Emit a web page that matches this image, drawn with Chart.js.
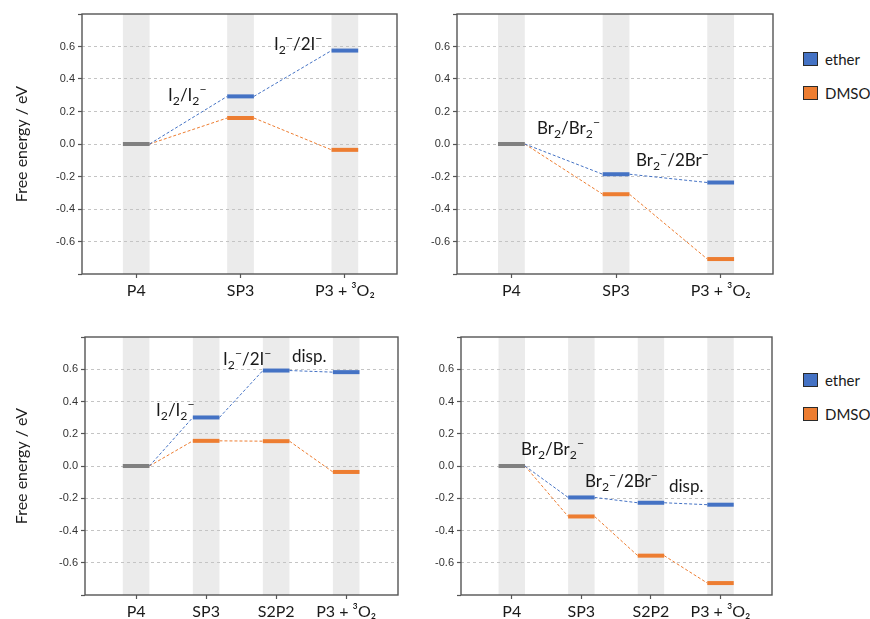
<!DOCTYPE html>
<html><head><meta charset="utf-8">
<script src="https://cdn.jsdelivr.net/npm/chart.js@4"></script>
<style>
body{margin:0;background:#fff;width:870px;height:619px;overflow:hidden;position:relative;font-family:Lato,sans-serif}
canvas{position:absolute}
.ann{position:absolute;font:17px Lato;line-height:20px;white-space:nowrap;color:#1a1a1a}
.sb{font-size:0.72em;position:relative;top:0.32em}
.sp{font-size:0.72em;position:relative;top:-0.62em}
.lg{position:absolute;font:15px Lato;line-height:18px;color:#1a1a1a;white-space:nowrap}
.lg i{position:absolute;left:0;top:2px;width:13px;height:13px;border:1px solid #2a2a2a;box-sizing:border-box;width:15px;height:14px}
.lg span{position:absolute;left:22px;top:0}
</style></head><body>
<canvas id="c1" width="420" height="310" style="left:0;top:0"></canvas>
<canvas id="c2" width="360" height="310" style="left:420px;top:0"></canvas>
<canvas id="c3" width="420" height="309" style="left:0;top:310px"></canvas>
<canvas id="c4" width="360" height="309" style="left:420px;top:310px"></canvas>

<div class="ann" style="left:168px;top:85px">I<span class="sb">2</span>/I<span class="sb">2</span><span class="sp">−</span></div>
<div class="ann" style="left:274px;top:34px">I<span class="sb">2</span><span class="sp">−</span>/2I<span class="sp">−</span></div>
<div class="ann" style="left:537px;top:118px">Br<span class="sb">2</span>/Br<span class="sb">2</span><span class="sp">−</span></div>
<div class="ann" style="left:636px;top:150px">Br<span class="sb">2</span><span class="sp">−</span>/2Br<span class="sp">−</span></div>

<div class="ann" style="left:156px;top:400px">I<span class="sb">2</span>/I<span class="sb">2</span><span class="sp">−</span></div>
<div class="ann" style="left:223px;top:349px">I<span class="sb">2</span><span class="sp">−</span>/2I<span class="sp">−</span></div>
<div class="ann" style="left:292px;top:346px">disp.</div>
<div class="ann" style="left:521px;top:439px">Br<span class="sb">2</span>/Br<span class="sb">2</span><span class="sp">−</span></div>
<div class="ann" style="left:585px;top:471px">Br<span class="sb">2</span><span class="sp">−</span>/2Br<span class="sp">−</span></div>
<div class="ann" style="left:669px;top:476px">disp.</div>

<div class="lg" style="left:803px;top:50px"><i style="background:#4472C4"></i><span>ether</span></div>
<div class="lg" style="left:803px;top:84px"><i style="background:#ED7D31"></i><span>DMSO</span></div>
<div class="lg" style="left:803px;top:371px"><i style="background:#4472C4"></i><span>ether</span></div>
<div class="lg" style="left:803px;top:405px"><i style="background:#ED7D31"></i><span>DMSO</span></div>

<script>
// ---- data ----
const catsTop = ['P4', 'SP3', 'P3 + ³O₂'];
const catsBottom = ['P4', 'SP3', 'S2P2', 'P3 + ³O₂'];
const yTicks = [-0.8, -0.6, -0.4, -0.2, 0.0, 0.2, 0.4, 0.6, 0.8];
const seriesNames = ['ether', 'DMSO'];

const iodineEtherTop = [0, 0.293, 0.575];
const iodineDmsoTop = [0, 0.160, -0.036];
const bromineEtherTop = [0, -0.186, -0.237];
const bromineDmsoTop = [0, -0.309, -0.708];

const iodineEtherBottom = [0, 0.301, 0.592, 0.582];
const iodineDmsoBottom = [0, 0.156, 0.154, -0.037];
const bromineEtherBottom = [0, -0.195, -0.228, -0.240];
const bromineDmsoBottom = [0, -0.313, -0.556, -0.726];

// ---- styling ----
const BLUE = '#4472C4', ORANGE = '#ED7D31', GREY = '#808080';

function levelPoints(vals, hw) {
  const pts = [{x: hw, y: vals[0]}];
  for (let i = 1; i < vals.length; i++) {
    pts.push({x: i - hw, y: vals[i]}, {x: i + hw, y: vals[i]});
  }
  return pts;
}

function panel(id, cats, ether, dmso, o) {
  const hw = o.hw;
  const seg = {
    borderWidth: c => (c.p0DataIndex % 2 === 0 ? 1 : 4),
    borderDash: c => (c.p0DataIndex % 2 === 0 ? [3, 2] : [])
  };
  const deco = {
    id: 'deco' + id,
    beforeDraw(chart) {
      const {ctx, chartArea: a, scales: {x}} = chart;
      ctx.save();
      ctx.fillStyle = '#ebebeb';
      cats.forEach((c, i) => {
        const l = x.getPixelForValue(i - hw), r = x.getPixelForValue(i + hw);
        ctx.fillRect(l, a.top, r - l, a.bottom - a.top);
      });
      ctx.restore();
    },
    afterDraw(chart) {
      const {ctx, chartArea: a} = chart;
      ctx.save();
      ctx.strokeStyle = '#555';
      ctx.lineWidth = 1.4;
      ctx.strokeRect(a.left, a.top, a.right - a.left, a.bottom - a.top);
      ctx.restore();
    }
  };
  new Chart(document.getElementById(id), {
    type: 'line',
    data: {
      datasets: [
        {label: 'P4', data: [{x: -hw, y: ether[0]}, {x: hw, y: ether[0]}], borderColor: GREY, borderWidth: 4, pointRadius: 0, borderCapStyle: 'butt'},
        {label: seriesNames[0], data: levelPoints(ether, hw), borderColor: BLUE, pointRadius: 0, borderCapStyle: 'butt', segment: seg},
        {label: seriesNames[1], data: levelPoints(dmso, hw), borderColor: ORANGE, pointRadius: 0, borderCapStyle: 'butt', segment: seg}
      ]
    },
    options: {
      responsive: false,
      animation: false,
      layout: {padding: {left: 0, top: o.pt, right: o.pr, bottom: 0}},
      plugins: {legend: {display: false}, tooltip: {enabled: false}},
      elements: {line: {tension: 0}},
      scales: {
        x: {
          type: 'linear', min: o.xmin, max: o.xmax,
          afterBuildTicks: s => { s.ticks = cats.map((c, i) => ({value: i})); },
          afterFit: s => { s.height = o.xh; },
          grid: {drawOnChartArea: false, drawTicks: true, tickLength: 4, tickColor: '#555', tickWidth: 1.2},
          border: {display: false},
          ticks: {callback: v => cats[v], font: {family: 'Lato', size: 16}, color: '#1a1a1a', padding: 3, maxRotation: 0, autoSkip: false}
        },
        y: {
          type: 'linear', min: -0.8, max: 0.8,
          afterBuildTicks: s => { s.ticks = yTicks.map(v => ({value: v})); },
          afterFit: s => { s.width = o.yw; },
          grid: {color: c => (Math.abs(c.tick.value) > 0.7 ? 'rgba(0,0,0,0)' : '#c4c4c4'), lineWidth: 1, tickLength: 4, tickColor: '#555', tickWidth: 1.2, tickBorderDash: []},
          border: {display: false, dash: [3, 3]},
          ticks: {callback: v => (Math.abs(v) > 0.7 ? '' : v.toFixed(1)), font: {family: 'Liberation Sans', size: 11}, color: '#333', padding: 3},
          title: {display: o.title, text: 'Free energy / eV', font: {family: 'Lato', size: 16}, color: '#1a1a1a', padding: {top: 12, bottom: 0}}
        }
      }
    },
    plugins: [deco]
  });
}

panel('c1', catsTop, iodineEtherTop, iodineDmsoTop, {hw: 0.128, xmin: -0.52, xmax: 2.5, pt: 14, pr: 23, xh: 36, yw: 82, title: true});
panel('c2', catsTop, bromineEtherTop, bromineDmsoTop, {hw: 0.128, xmin: -0.52, xmax: 2.5, pt: 14, pr: 7, xh: 36, yw: 37, title: false});
panel('c3', catsBottom, iodineEtherBottom, iodineDmsoBottom, {hw: 0.19, xmin: -0.73, xmax: 3.74, pt: 27, pr: 22, xh: 24, yw: 85, title: true});
panel('c4', catsBottom, bromineEtherBottom, bromineDmsoBottom, {hw: 0.19, xmin: -0.73, xmax: 3.74, pt: 27, pr: 8, xh: 24, yw: 41, title: false});
</script>
</body></html>
